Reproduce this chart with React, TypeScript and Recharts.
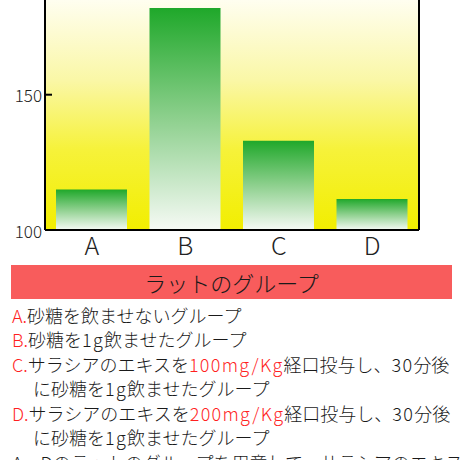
import React from 'react';
import { BarChart, Bar, XAxis, YAxis, CartesianGrid } from 'recharts';

const groups = ['A', 'B', 'C', 'D'];
const values = [115, 182, 133, 111.5];
const yTicks = [100, 150];

const data = groups.map((g, i) => ({ group: g, value: values[i] }));

const FONT = '"Noto Sans CJK JP", "Noto Sans", sans-serif';
const RED = '#ff1f1f';

const YTick = (props: any) => {
  const { x, y, payload } = props;
  return (
    <g>
      <line x1={x + 3} x2={x + 10} y1={y} y2={y} stroke="#000" strokeWidth={2} />
      <text
        x={x}
        y={y}
        textAnchor="end"
        dominantBaseline="central"
        fontSize={17}
        fontWeight={300}
        fill="#222"
        fontFamily={FONT}>
        {payload.value}
      </text>
    </g>);

};

const R = ({ children }: { children: React.ReactNode }) =>
<span style={{ color: RED }}>{children}</span>;

// half-width runs are set a little wider in the original
const W = ({ children, red }: { children: React.ReactNode; red?: boolean }) =>
<span style={{ letterSpacing: '1.3px', color: red ? RED : undefined }}>{children}</span>;

export default function App() {
  return (
    <div
      style={{
        position: 'absolute',
        left: 0,
        top: 0,
        width: 460,
        height: 460,
        overflow: 'hidden',
        background: '#fff',
        fontFamily: FONT
      }}>
      <BarChart
        width={460}
        height={262}
        data={data}
        margin={{ top: 0, right: 40, bottom: 0, left: 0 }}>
        <defs>
          <linearGradient id="bgGrad" x1="0" y1="0" x2="0" y2="1">
            <stop offset="0%" stopColor="#fffef0" />
            <stop offset="35%" stopColor="#faf7a6" />
            <stop offset="65%" stopColor="#f6f23a" />
            <stop offset="100%" stopColor="#f2ee00" />
          </linearGradient>
          <linearGradient id="barGrad" x1="0" y1="0" x2="0" y2="1">
            <stop offset="0%" stopColor="#1fa82a" />
            <stop offset="50%" stopColor="#8ed08e" />
            <stop offset="100%" stopColor="#f6faf5" />
          </linearGradient>
        </defs>
        <CartesianGrid horizontal={false} vertical={false} fill="url(#bgGrad)" />
        <XAxis
          dataKey="group"
          height={32}
          tickLine={false}
          tickSize={0}
          tickMargin={7}
          axisLine={{ stroke: '#000', strokeWidth: 2 }}
          tick={{ fontSize: 25, fill: '#222', fontFamily: FONT, fontWeight: 300 }} />
        
        <YAxis
          width={45}
          domain={[100, 185]}
          ticks={yTicks}
          allowDataOverflow
          tickLine={false}
          tickSize={0}
          tickMargin={3}
          axisLine={{ stroke: '#000', strokeWidth: 2 }}
          tick={<YTick />} />
        
        <YAxis
          yAxisId="right"
          orientation="right"
          width={1}
          tick={false}
          tickLine={false}
          axisLine={{ stroke: '#000', strokeWidth: 2 }} />
        
        <Bar dataKey="value" fill="url(#barGrad)" barSize={71} isAnimationActive={false} />
      </BarChart>

      <div
        style={{
          position: 'absolute',
          left: 11,
          top: 265,
          width: 441,
          height: 34,
          background: '#f85c5c',
          color: '#1a1a1a',
          fontSize: 22,
          lineHeight: '34px',
          textAlign: 'center',
          fontWeight: 300
        }}>
        ラットのグループ
      </div>

      <div
        style={{
          position: 'absolute',
          left: 12,
          top: 302.5,
          width: 448,
          fontSize: 18,
          lineHeight: '24.5px',
          color: '#1a1a1a',
          fontWeight: 300,
          whiteSpace: 'nowrap'
        }}>
        <div><R>A.</R>砂糖を飲ませないグループ</div>
        <div><R>B.</R>砂糖を<W>1g</W>飲ませたグループ</div>
        <div><R>C.</R>サラシアのエキスを<W red>100mg/Kg</W>経口投与し、<W>30</W>分後</div>
        <div style={{ paddingLeft: 21 }}>に砂糖を<W>1g</W>飲ませたグループ</div>
        <div><R>D.</R>サラシアのエキスを<W red>200mg/Kg</W>経口投与し、<W>30</W>分後</div>
        <div style={{ paddingLeft: 21 }}>に砂糖を<W>1g</W>飲ませたグループ</div>
        <div>A～Dのラットのグループを用意して、サラシアのエキス</div>
      </div>
    </div>);

}
